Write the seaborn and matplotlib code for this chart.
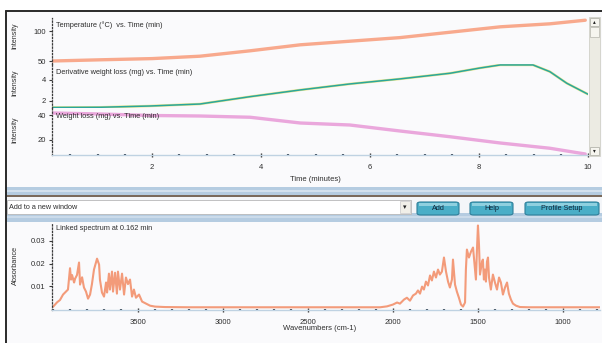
import matplotlib
matplotlib.use("Agg")
import matplotlib.pyplot as plt
import seaborn as sns
from matplotlib.patches import Rectangle, FancyBboxPatch
from matplotlib.ticker import MultipleLocator

# ---------------- data ----------------
TIME_TEMP = [0.17, 1.05, 2.0, 2.88, 3.8, 4.72, 5.63, 6.55, 7.47, 8.39, 9.3, 9.95]
TEMPERATURE = [50, 52, 54, 58, 67, 77, 83, 89, 98, 107, 112, 118]

TIME_DERIV = [0.17, 1.05, 1.96, 2.88, 3.8, 4.72, 5.63, 6.55, 7.47, 8.02, 8.39, 8.99, 9.3, 9.61, 10.0]
DERIV = [1.38, 1.40, 1.52, 1.71, 2.41, 3.05, 3.62, 4.10, 4.64, 5.14, 5.43, 5.43, 4.79, 3.69, 2.64]

TIME_WEIGHT = [0.17, 1.05, 2.0, 2.88, 3.8, 4.72, 5.63, 6.55, 7.47, 8.39, 9.3, 9.95]
WEIGHT = [41.6, 40.8, 39.6, 39.2, 38.2, 33.6, 32.0, 27.2, 22.6, 17.6, 13.4, 8.8]

WAVENUMBER = [4000, 3976, 3959, 3941, 3924, 3912, 3900, 3894, 3888, 3876, 3870, 3859,
              3847, 3841, 3829, 3818, 3806, 3794, 3782, 3771, 3759, 3741, 3729, 3724,
              3712, 3700, 3688, 3682, 3671, 3665, 3653, 3647, 3635, 3624, 3618, 3606,
              3594, 3582, 3571, 3559, 3547, 3535, 3524, 3512, 3494, 3476, 3453, 3429,
              3400, 3341, 3200, 3000, 2800, 2600, 2400, 2200, 2076, 2035, 2000, 1976,
              1959, 1935, 1918, 1900, 1882, 1865, 1853, 1841, 1829, 1818, 1806, 1794,
              1782, 1771, 1759, 1747, 1735, 1724, 1712, 1700, 1688, 1676, 1665, 1653,
              1647, 1635, 1624, 1612, 1600, 1588, 1576, 1571, 1565, 1553, 1541, 1529,
              1518, 1512, 1506, 1500, 1494, 1488, 1476, 1471, 1465, 1459, 1453, 1447,
              1441, 1435, 1424, 1412, 1400, 1388, 1376, 1365, 1353, 1341, 1329, 1318,
              1306, 1294, 1276, 1253, 1200, 1100, 1000, 900, 782]
ABSORBANCE = [0.0010, 0.0030, 0.0040, 0.0064, 0.0077, 0.0086, 0.0180, 0.0130, 0.0150,
              0.0117, 0.0134, 0.0150, 0.0205, 0.0108, 0.0140, 0.0095, 0.0077, 0.0046,
              0.0064, 0.0110, 0.0174, 0.0222, 0.0196, 0.0130, 0.0073, 0.0055, 0.0117,
              0.0073, 0.0156, 0.0086, 0.0165, 0.0077, 0.0160, 0.0068, 0.0165, 0.0086,
              0.0156, 0.0064, 0.0139, 0.0110, 0.0130, 0.0055, 0.0086, 0.0050, 0.0064,
              0.0033, 0.0024, 0.0015, 0.0011, 0.0009, 0.0008, 0.0008, 0.0008, 0.0008,
              0.0008, 0.0008, 0.0008, 0.0012, 0.0020, 0.0029, 0.0024, 0.0042, 0.0050,
              0.0037, 0.0060, 0.0068, 0.0082, 0.0068, 0.0099, 0.0086, 0.0121, 0.0104,
              0.0148, 0.0126, 0.0165, 0.0139, 0.0174, 0.0152, 0.0165, 0.0227, 0.0165,
              0.0121, 0.0095, 0.0130, 0.0218, 0.0108, 0.0077, 0.0050, 0.0020, 0.0011,
              0.0029, 0.0174, 0.0262, 0.0227, 0.0253, 0.0271, 0.0183, 0.0130, 0.0260,
              0.0368, 0.0284, 0.0152, 0.0209, 0.0218, 0.0130, 0.0174, 0.0121, 0.0209,
              0.0227, 0.0139, 0.0086, 0.0152, 0.0117, 0.0086, 0.0139, 0.0117, 0.0064,
              0.0095, 0.0117, 0.0068, 0.0042, 0.0024, 0.0015, 0.0009, 0.0008, 0.0008,
              0.0008, 0.0008, 0.0008]

TIME_TICKS = [2, 4, 6, 8, 10]
WN_TICKS = [3500, 3000, 2500, 2000, 1500, 1000]

# ---------------- figure setup ----------------
W, H = 602, 343
sns.set_theme(style="white")
plt.rcParams['font.family'] = ['Liberation Sans', 'DejaVu Sans']
TXT = '#2e2e2e'

fig = plt.figure(figsize=(W / 100, H / 100), dpi=100)
fig.patch.set_facecolor('white')


def px_rect(x0, y0, x1, y1):
    return [x0 / W, 1 - y1 / H, (x1 - x0) / W, (y1 - y0) / H]


def add_rect(x0, y0, x1, y1, z=-1, **kw):
    r = Rectangle((x0 / W, 1 - y1 / H), (x1 - x0) / W, (y1 - y0) / H,
                  transform=fig.transFigure, zorder=z, **kw)
    fig.add_artist(r)
    return r


def ftext(x, y, s, **kw):
    kw.setdefault('color', TXT)
    kw.setdefault('fontsize', 5.3)
    fig.text(x / W, 1 - y / H, s, **kw)


# window background and frame
add_rect(6, 11, W, H, facecolor='#fafafc', edgecolor='none', z=-3)
fig.add_artist(plt.Line2D([5.5 / W, 1], [1 - 10.5 / H] * 2, transform=fig.transFigure,
                          color='#2a2a2a', lw=1.4, zorder=5))
fig.add_artist(plt.Line2D([5.5 / W] * 2, [1 - 10.5 / H, 0], transform=fig.transFigure,
                          color='#2a2a2a', lw=1.4, zorder=5))

# separator bands
add_rect(6, 187, W, 196, facecolor='#b5cce1', edgecolor='none')
add_rect(6, 190.5, W, 192.5, facecolor='#d3e1ee', edgecolor='none')
add_rect(6, 195.5, W, 197, facecolor='#7a6a5c', edgecolor='none')
add_rect(6, 197, W, 213, facecolor='#f4f6f9', edgecolor='none')
add_rect(6, 213, W, 222, facecolor='#b5cce1', edgecolor='none')
add_rect(6, 216, W, 218, facecolor='#cbdbea', edgecolor='none')

# dropdown
add_rect(7, 200, 411, 214, z=2, facecolor='white', edgecolor='#b8b8b8', lw=0.6)
add_rect(400, 201, 410, 213, z=3, facecolor='#f1efe8', edgecolor='#c8c8c8', lw=0.5)
ftext(405, 207.5, '\u25be', fontsize=5, ha='center', va='center', color='#222',
      family=['DejaVu Sans'])
ftext(9, 207.5, 'Add to a new window', va='center', fontsize=5.2)

# buttons
for (bx0, bx1, label) in [(417, 459, 'Add'), (470, 513, 'Help'), (525, 599, 'Profile Setup')]:
    b = FancyBboxPatch((bx0 / W, 1 - 215 / H), (bx1 - bx0) / W, 13 / H,
                       boxstyle='round,pad=0,rounding_size=0.006',
                       transform=fig.transFigure, facecolor='#4aaec7',
                       edgecolor='#2f7f99', lw=0.8, zorder=2)
    fig.add_artist(b)
    add_rect(bx0 + 2, 203, bx1 - 2, 206, z=2.5, facecolor='#8fd0df', edgecolor='none')
    ftext((bx0 + bx1) / 2, 208.5, label, ha='center', va='center', fontsize=5.2,
          color='#102438', zorder=4)

# scrollbar
add_rect(589, 17, 600, 156, z=2, facecolor='#ecebe3', edgecolor='#c9c9c0', lw=0.5)
add_rect(590, 18, 599, 26, z=3, facecolor='#f6f5ef', edgecolor='#a9a9a0', lw=0.5)
add_rect(590, 27, 599, 37, z=3, facecolor='#f6f5ef', edgecolor='#b5b5ac', lw=0.5)
add_rect(590, 147, 599, 155, z=3, facecolor='#f6f5ef', edgecolor='#a9a9a0', lw=0.5)
ftext(594.5, 22, '\u25b4', fontsize=4, ha='center', va='center', color='#222',
      family=['DejaVu Sans'])
ftext(594.5, 151, '\u25be', fontsize=4, ha='center', va='center', color='#222',
      family=['DejaVu Sans'])

# ---------------- top: three stacked traces ----------------
ax1 = fig.add_axes(px_rect(52, 18, 588, 64))
ax2 = fig.add_axes(px_rect(52, 64, 588, 108))
ax3 = fig.add_axes(px_rect(52, 108, 588, 155))
axs = fig.add_axes(px_rect(52, 223, 600, 310))

for ax in (ax1, ax2, ax3, axs):
    ax.set_facecolor('none')
    for s in ('top', 'right'):
        ax.spines[s].set_visible(False)
    ax.spines['left'].set_linestyle((0, (1, 1.6)))
    ax.spines['left'].set_color('#3a3a3a')
    ax.spines['left'].set_linewidth(0.9)
    ax.tick_params(axis='y', which='major', left=True, length=2.5, width=0.8,
                   color='#3a3a3a', labelsize=5.5, labelcolor=TXT, pad=2)
    ax.grid(False)

for ax in (ax1, ax2):
    ax.spines['bottom'].set_visible(False)
    ax.tick_params(axis='x', bottom=False, labelbottom=False)
    ax.set_xlim(0.165, 10.0)

sns.lineplot(x=TIME_TEMP, y=TEMPERATURE, ax=ax1, color='#f8a98d', lw=2.4,
             estimator=None, solid_capstyle='round')
ax1.set_ylim(45, 121.7)
ax1.set_yticks([50, 100])

sns.lineplot(x=TIME_DERIV, y=DERIV, ax=ax2, color='#ebe58a', lw=1.8, estimator=None)
sns.lineplot(x=TIME_DERIV, y=DERIV, ax=ax2, color='#2aa69c', lw=1.1, estimator=None)
ax2.set_ylim(1.33, 5.52)
ax2.set_yticks([2, 4])

sns.lineplot(x=TIME_WEIGHT, y=WEIGHT, ax=ax3, color='#eaa7dc', lw=2.4,
             estimator=None, solid_capstyle='round')
ax3.set_ylim(8, 45.6)
ax3.set_yticks([20, 40])
ax3.set_xlim(0.165, 10.0)
ax3.set_xticks(TIME_TICKS)
ax3.set_xticklabels([str(t) for t in TIME_TICKS])
ax3.xaxis.set_minor_locator(MultipleLocator(0.5))

for ax in (ax3, axs):
    ax.spines['bottom'].set_color('#bfd2e2')
    ax.spines['bottom'].set_linewidth(1.0)
    ax.tick_params(axis='x', which='major', bottom=True, length=3, width=1.0,
                   color='#3a3a3a', direction='inout', labelsize=5.5,
                   labelcolor=TXT, pad=5)
    ax.tick_params(axis='x', which='minor', bottom=True, length=1.6, width=1.6,
                   color='#3a4a5a', direction='inout')
    ax.set_xlabel('')
    ax.set_ylabel('')

for ax in (ax1, ax2):
    ax.set_xlabel('')
    ax.set_ylabel('')

ftext(56, 25, 'Temperature (\u00b0C)  vs. Time (min)', va='center')
ftext(56, 72, 'Derivative weight loss (mg) vs. Time (min)', va='center')
ftext(56, 117, 'Weight loss (mg) vs. Time (min)', va='center')
for yc in (36, 83, 130):
    ftext(15, yc, 'Intensity', rotation=90, ha='center', va='center', fontsize=5)
ftext(315, 180, 'Time (minutes)', ha='center', va='center', fontsize=5.5)

# ---------------- bottom: linked spectrum ----------------
sns.lineplot(x=WAVENUMBER, y=ABSORBANCE, ax=axs, color='#f28a63', lw=1.5,
             estimator=None, sort=False, alpha=0.85)
axs.set_xlim(4006, 782)
axs.set_ylim(-0.0004, 0.0379)
axs.set_xticks(WN_TICKS)
axs.set_xticklabels([str(t) for t in WN_TICKS])
axs.xaxis.set_minor_locator(MultipleLocator(100))
axs.set_yticks([0.01, 0.02, 0.03])
axs.set_yticklabels(['0.01', '0.02', '0.03'])

ftext(56, 229, 'Linked spectrum at 0.162 min', va='center')
ftext(15, 265, 'Absorbance', rotation=90, ha='center', va='center', fontsize=5.3)
ftext(320, 328, 'Wavenumbers (cm-1)', ha='center', va='center', fontsize=5.5)

fig.savefig('out.png', dpi=100, facecolor=fig.get_facecolor())
